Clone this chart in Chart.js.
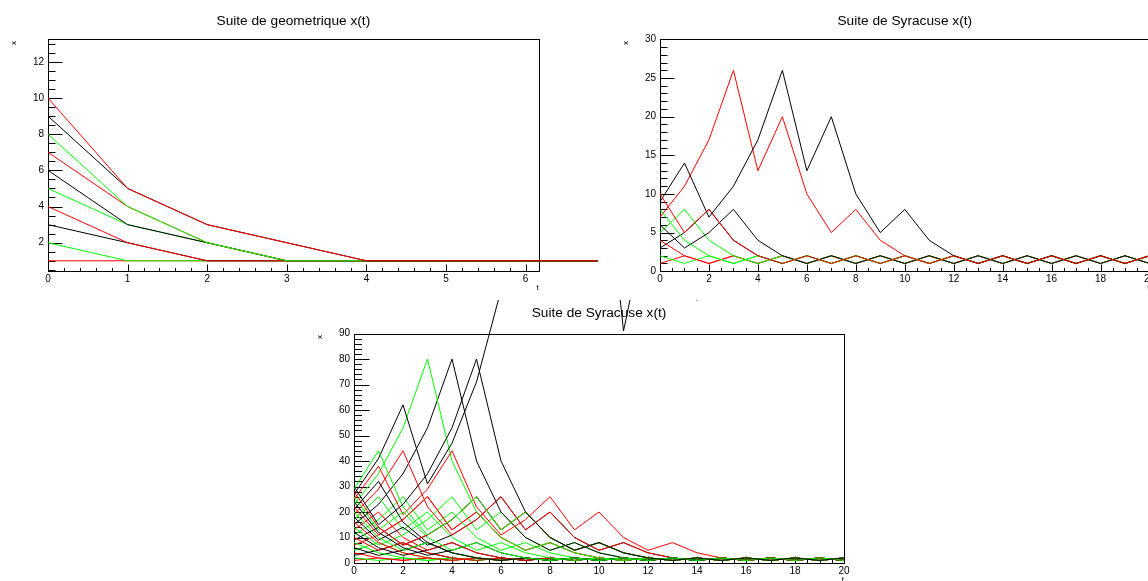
<!DOCTYPE html>
<html>
<head>
<meta charset="utf-8">
<title>Suites x(t)</title>
<script src="https://cdn.jsdelivr.net/npm/chart.js@4.4.1/dist/chart.umd.min.js"></script>
<style>
  html, body { margin: 0; padding: 0; background: #fff; }
  body { width: 1148px; height: 581px; overflow: hidden; position: relative; }
  canvas { position: absolute; }
</style>
</head>
<body>
<canvas id="geo" width="598" height="298" style="left:0;top:0;width:598px;height:298px"></canvas>
<canvas id="syr10" width="615" height="298" style="left:598px;top:0;width:615px;height:298px"></canvas>
<canvas id="syr30" width="600" height="281" style="left:300px;top:300px;width:600px;height:281px"></canvas>
<script>
const FONT = '"Liberation Sans", Arial, Helvetica, sans-serif';

const times = [0, 1, 2, 3, 4, 5, 6, 7, 8, 9, 10, 11, 12, 13, 14, 15, 16, 17, 18, 19, 20];

// suite geometrique, depart x0 = 1..10
const geometric = [
  [1, 1, 1, 1, 1, 1, 1, 1, 1, 1, 1, 1, 1, 1, 1, 1, 1, 1, 1, 1, 1],
  [2, 1, 1, 1, 1, 1, 1, 1, 1, 1, 1, 1, 1, 1, 1, 1, 1, 1, 1, 1, 1],
  [3, 2, 1, 1, 1, 1, 1, 1, 1, 1, 1, 1, 1, 1, 1, 1, 1, 1, 1, 1, 1],
  [4, 2, 1, 1, 1, 1, 1, 1, 1, 1, 1, 1, 1, 1, 1, 1, 1, 1, 1, 1, 1],
  [5, 3, 2, 1, 1, 1, 1, 1, 1, 1, 1, 1, 1, 1, 1, 1, 1, 1, 1, 1, 1],
  [6, 3, 2, 1, 1, 1, 1, 1, 1, 1, 1, 1, 1, 1, 1, 1, 1, 1, 1, 1, 1],
  [7, 4, 2, 1, 1, 1, 1, 1, 1, 1, 1, 1, 1, 1, 1, 1, 1, 1, 1, 1, 1],
  [8, 4, 2, 1, 1, 1, 1, 1, 1, 1, 1, 1, 1, 1, 1, 1, 1, 1, 1, 1, 1],
  [9, 5, 3, 2, 1, 1, 1, 1, 1, 1, 1, 1, 1, 1, 1, 1, 1, 1, 1, 1, 1],
  [10, 5, 3, 2, 1, 1, 1, 1, 1, 1, 1, 1, 1, 1, 1, 1, 1, 1, 1, 1, 1]
];

// suite de Syracuse, depart x0 = 1..30
const syracuse = [
  [1, 2, 1, 2, 1, 2, 1, 2, 1, 2, 1, 2, 1, 2, 1, 2, 1, 2, 1, 2, 1],
  [2, 1, 2, 1, 2, 1, 2, 1, 2, 1, 2, 1, 2, 1, 2, 1, 2, 1, 2, 1, 2],
  [3, 5, 8, 4, 2, 1, 2, 1, 2, 1, 2, 1, 2, 1, 2, 1, 2, 1, 2, 1, 2],
  [4, 2, 1, 2, 1, 2, 1, 2, 1, 2, 1, 2, 1, 2, 1, 2, 1, 2, 1, 2, 1],
  [5, 8, 4, 2, 1, 2, 1, 2, 1, 2, 1, 2, 1, 2, 1, 2, 1, 2, 1, 2, 1],
  [6, 3, 5, 8, 4, 2, 1, 2, 1, 2, 1, 2, 1, 2, 1, 2, 1, 2, 1, 2, 1],
  [7, 11, 17, 26, 13, 20, 10, 5, 8, 4, 2, 1, 2, 1, 2, 1, 2, 1, 2, 1, 2],
  [8, 4, 2, 1, 2, 1, 2, 1, 2, 1, 2, 1, 2, 1, 2, 1, 2, 1, 2, 1, 2],
  [9, 14, 7, 11, 17, 26, 13, 20, 10, 5, 8, 4, 2, 1, 2, 1, 2, 1, 2, 1, 2],
  [10, 5, 8, 4, 2, 1, 2, 1, 2, 1, 2, 1, 2, 1, 2, 1, 2, 1, 2, 1, 2],
  [11, 17, 26, 13, 20, 10, 5, 8, 4, 2, 1, 2, 1, 2, 1, 2, 1, 2, 1, 2, 1],
  [12, 6, 3, 5, 8, 4, 2, 1, 2, 1, 2, 1, 2, 1, 2, 1, 2, 1, 2, 1, 2],
  [13, 20, 10, 5, 8, 4, 2, 1, 2, 1, 2, 1, 2, 1, 2, 1, 2, 1, 2, 1, 2],
  [14, 7, 11, 17, 26, 13, 20, 10, 5, 8, 4, 2, 1, 2, 1, 2, 1, 2, 1, 2, 1],
  [15, 23, 35, 53, 80, 40, 20, 10, 5, 8, 4, 2, 1, 2, 1, 2, 1, 2, 1, 2, 1],
  [16, 8, 4, 2, 1, 2, 1, 2, 1, 2, 1, 2, 1, 2, 1, 2, 1, 2, 1, 2, 1],
  [17, 26, 13, 20, 10, 5, 8, 4, 2, 1, 2, 1, 2, 1, 2, 1, 2, 1, 2, 1, 2],
  [18, 9, 14, 7, 11, 17, 26, 13, 20, 10, 5, 8, 4, 2, 1, 2, 1, 2, 1, 2, 1],
  [19, 29, 44, 22, 11, 17, 26, 13, 20, 10, 5, 8, 4, 2, 1, 2, 1, 2, 1, 2, 1],
  [20, 10, 5, 8, 4, 2, 1, 2, 1, 2, 1, 2, 1, 2, 1, 2, 1, 2, 1, 2, 1],
  [21, 32, 16, 8, 4, 2, 1, 2, 1, 2, 1, 2, 1, 2, 1, 2, 1, 2, 1, 2, 1],
  [22, 11, 17, 26, 13, 20, 10, 5, 8, 4, 2, 1, 2, 1, 2, 1, 2, 1, 2, 1, 2],
  [23, 35, 53, 80, 40, 20, 10, 5, 8, 4, 2, 1, 2, 1, 2, 1, 2, 1, 2, 1, 2],
  [24, 12, 6, 3, 5, 8, 4, 2, 1, 2, 1, 2, 1, 2, 1, 2, 1, 2, 1, 2, 1],
  [25, 38, 19, 29, 44, 22, 11, 17, 26, 13, 20, 10, 5, 8, 4, 2, 1, 2, 1, 2, 1],
  [26, 13, 20, 10, 5, 8, 4, 2, 1, 2, 1, 2, 1, 2, 1, 2, 1, 2, 1, 2, 1],
  [27, 41, 62, 31, 47, 71, 107, 161, 242, 121, 182, 91, 137, 206, 103, 155, 233, 350, 175, 263, 395],
  [28, 14, 7, 11, 17, 26, 13, 20, 10, 5, 8, 4, 2, 1, 2, 1, 2, 1, 2, 1, 2],
  [29, 44, 22, 11, 17, 26, 13, 20, 10, 5, 8, 4, 2, 1, 2, 1, 2, 1, 2, 1, 2],
  [30, 15, 23, 35, 53, 80, 40, 20, 10, 5, 8, 4, 2, 1, 2, 1, 2, 1, 2, 1, 2]
];

// couleur selon x0 % 3 : 0 noir, 1 rouge, 2 vert
const lineColors = ['#000000', '#ff0000', '#00ff00'];

function buildDatasets(series) {
  return series.map((vals, k) => ({
    data: vals.map((v, j) => ({ x: times[j], y: v })),
    borderColor: lineColors[(k + 1) % 3],
    borderWidth: 1,
    pointRadius: 0,
    pointHoverRadius: 0,
    tension: 0,
    fill: false,
    clip: false,          // comme ROOT : les courbes debordent du cadre
    order: series.length - k
  }));
}

function tickValues(min, max, step) {
  const out = [];
  for (let k = Math.ceil(min / step - 1e-9); k * step <= max + 1e-9; k++) out.push(k * step);
  return out;
}
const isMultiple = (v, step) => Math.abs(v / step - Math.round(v / step)) < 1e-6;

// cadre, graduations internes et titres facon ROOT
const rootFrame = {
  id: 'rootFrame',
  beforeDatasetsDraw(chart, args, o) {
    const { ctx, chartArea: a } = chart;
    const xs = chart.scales.x, ys = chart.scales.y;
    const L = Math.round(a.left) + 0.5, R = Math.round(a.right) + 0.5;
    const T = Math.round(a.top) + 0.5, B = Math.round(a.bottom) + 0.5;
    ctx.save();
    ctx.strokeStyle = '#000';
    ctx.lineWidth = 1;
    ctx.strokeRect(L, T, R - L, B - T);

    ctx.beginPath();
    tickValues(xs.min, xs.max, o.xMinor).forEach(v => {
      const px = Math.round(xs.getPixelForValue(v)) + 0.5;
      const len = isMultiple(v, o.xMajor) ? o.xLen : o.xLen / 2;
      ctx.moveTo(px, B);
      ctx.lineTo(px, B - len);
    });
    tickValues(ys.min, ys.max, o.yMinor).forEach(v => {
      const py = Math.round(ys.getPixelForValue(v)) + 0.5;
      const len = isMultiple(v, o.yMajor) ? o.yLen : o.yLen / 2;
      ctx.moveTo(L, py);
      ctx.lineTo(L + len, py);
    });
    ctx.stroke();

    ctx.fillStyle = '#000';
    ctx.font = '13.7px ' + FONT;
    ctx.textAlign = 'center';
    ctx.textBaseline = 'alphabetic';
    ctx.fillText(o.title, (a.left + a.right) / 2, o.titleY);

    ctx.font = '8px ' + FONT;
    ctx.textAlign = 'right';
    ctx.fillText('t', a.right, a.bottom + 19);

    ctx.translate(a.left - 34, a.top + 3.5);
    ctx.rotate(-Math.PI / 2);
    ctx.textAlign = 'center';
    ctx.textBaseline = 'middle';
    ctx.fillText('x', 0, 0);
    ctx.restore();
  }
};

function makePanel(id, series, p) {
  const canvas = document.getElementById(id);
  const W = canvas.width, H = canvas.height;
  const f = p.frame;
  const tickFont = { family: FONT, size: 10 };
  return new Chart(canvas, {
    type: 'line',
    data: { datasets: buildDatasets(series) },
    options: {
      responsive: false,
      animation: false,
      events: [],
      layout: { padding: { left: 0, top: f.top, right: W - f.right, bottom: 0 } },
      plugins: {
        legend: { display: false },
        tooltip: { enabled: false },
        title: { display: false },
        rootFrame: {
          title: p.title, titleY: p.titleY,
          xMajor: p.xStep, xMinor: p.xMinor, xLen: 7,
          yMajor: p.yStep, yMinor: p.yMinor, yLen: p.yLen
        }
      },
      scales: {
        x: {
          type: 'linear', min: p.xMin, max: p.xMax,
          afterFit: s => { s.height = H - f.bottom; },
          grid: { display: false, drawTicks: false }, border: { display: false },
          ticks: { stepSize: p.xStep, includeBounds: false, padding: 2, maxRotation: 0,
                   autoSkip: false, color: '#000', font: tickFont }
        },
        y: {
          type: 'linear', min: p.yMin, max: p.yMax,
          afterFit: s => { s.width = f.left; },
          grid: { display: false, drawTicks: false }, border: { display: false },
          ticks: { stepSize: p.yStep, includeBounds: false, padding: 4,
                   autoSkip: false, color: '#000', font: tickFont }
        }
      }
    },
    plugins: [rootFrame]
  });
}

makePanel('geo', geometric, {
  title: 'Suite de geometrique x(t)', titleY: 24.5,
  xMin: 0, xMax: 6.164, xStep: 1, xMinor: 0.2,
  yMin: 0.42, yMax: 13.24, yStep: 2, yMinor: 0.5, yLen: 14,
  frame: { left: 48, top: 39.4, right: 538.7, bottom: 271.3 }
});

makePanel('syr10', syracuse.slice(0, 10), {
  title: 'Suite de Syracuse x(t)', titleY: 24.5,
  xMin: 0, xMax: 20, xStep: 2, xMinor: 0.5,
  yMin: 0, yMax: 30, yStep: 5, yMinor: 1, yLen: 14,
  frame: { left: 62, top: 39.4, right: 551.5, bottom: 271.2 }
});

makePanel('syr30', syracuse, {
  title: 'Suite de Syracuse x(t)', titleY: 17,
  xMin: 0, xMax: 20, xStep: 2, xMinor: 0.5,
  yMin: 0, yMax: 90, yStep: 10, yMinor: 2, yLen: 15,
  frame: { left: 54, top: 33.5, right: 544, bottom: 263 }
});
</script>
</body>
</html>
